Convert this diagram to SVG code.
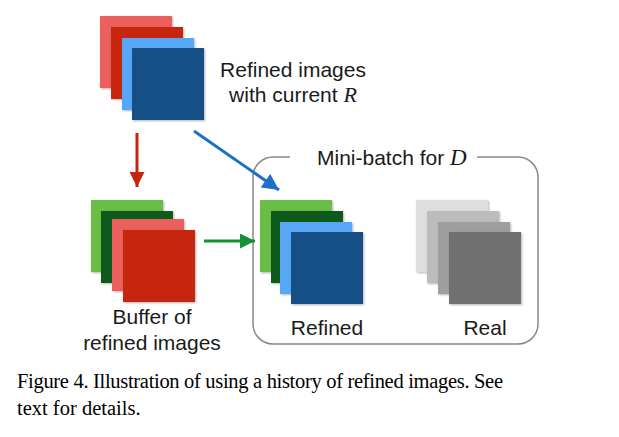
<svg xmlns="http://www.w3.org/2000/svg" width="619" height="437" viewBox="0 0 619 437">
<style>
.lbl{font-family:"Liberation Sans",Arial,sans-serif;font-size:21px;fill:#1a1a1a}
.math{font-family:"Liberation Serif","Times New Roman",serif;font-style:italic}
.cap{font-family:"Liberation Serif","Times New Roman",serif;font-size:20.5px;fill:#000}
.sq{filter:url(#sh)}
</style>
<defs>
<filter id="sh" x="-10%" y="-10%" width="130%" height="130%">
<feDropShadow dx="1" dy="1" stdDeviation="1" flood-color="#000" flood-opacity="0.3"/>
</filter>
<marker id="arR" viewBox="0 0 10 10" refX="10" refY="5" markerWidth="5" markerHeight="5" orient="auto" markerUnits="strokeWidth"><path d="M0,0 L10,5 L0,10 z" fill="#c5250b"/></marker>
<marker id="arB" viewBox="0 0 10 10" refX="10" refY="5" markerWidth="5.5" markerHeight="5.5" orient="auto" markerUnits="strokeWidth"><path d="M0,0 L10,5 L0,10 z" fill="#1f6fc6"/></marker>
<marker id="arG" viewBox="0 0 10 10" refX="10" refY="5" markerWidth="5" markerHeight="5" orient="auto" markerUnits="strokeWidth"><path d="M0,0 L10,5 L0,10 z" fill="#149038"/></marker>
</defs>
<rect width="619" height="437" fill="#fff"/>

<g id="current-stack">
<rect class="sq" x="100" y="16" width="72" height="72" fill="#eb5f5b"/>
<rect class="sq" x="111" y="27" width="72" height="72" fill="#c5250b"/>
<rect class="sq" x="122" y="38" width="72" height="72" fill="#56a8f7"/>
<rect class="sq" x="132" y="48" width="72" height="72" fill="#174f85"/>
<text class="lbl" x="293" y="77" text-anchor="middle">Refined images</text>
<text class="lbl" x="293" y="102" text-anchor="middle">with current <tspan class="math" font-size="22">R</tspan></text>
</g>

<g id="buffer-stack">
<rect class="sq" x="91" y="200" width="72" height="72" fill="#6bbd45"/>
<rect class="sq" x="101" y="211" width="72" height="72" fill="#0e5a1b"/>
<rect class="sq" x="112" y="219" width="72" height="72" fill="#eb5f5b"/>
<rect class="sq" x="123" y="230" width="72" height="72" fill="#c5250b"/>
<text class="lbl" x="152" y="324" text-anchor="middle">Buffer of</text>
<text class="lbl" x="152" y="350" text-anchor="middle">refined images</text>
</g>

<g id="minibatch">
<path d="M290,157 L273,157 A20,20 0 0 0 253,177 L253,324 A20,20 0 0 0 273,344 L518,344 A20,20 0 0 0 538,324 L538,177 A20,20 0 0 0 518,157 L477,157" fill="none" stroke="#888" stroke-width="1.5"/>
<text class="lbl" x="317" y="165">Mini-batch for <tspan class="math" font-size="23">D</tspan></text>
</g>

<g id="refined-stack">
<rect class="sq" x="260" y="200" width="72" height="72" fill="#6bbd45"/>
<rect class="sq" x="271" y="211" width="72" height="72" fill="#0e5a1b"/>
<rect class="sq" x="280" y="222" width="72" height="72" fill="#56a8f7"/>
<rect class="sq" x="291" y="232" width="72" height="72" fill="#174f85"/>
<text class="lbl" x="327" y="335" text-anchor="middle">Refined</text>
</g>

<g id="real-stack">
<rect class="sq" x="416" y="200" width="72" height="72" fill="#dedede"/>
<rect class="sq" x="427" y="211" width="72" height="72" fill="#bcbcbc"/>
<rect class="sq" x="438" y="222" width="72" height="72" fill="#9e9e9e"/>
<rect class="sq" x="449" y="232" width="72" height="72" fill="#717171"/>
<text class="lbl" x="485" y="335" text-anchor="middle">Real</text>
</g>

<g id="connectors">
<line x1="137" y1="133" x2="137" y2="187" stroke="#c5250b" stroke-width="3" marker-end="url(#arR)"/>
<line x1="194" y1="131" x2="279" y2="190" stroke="#1f6fc6" stroke-width="3" marker-end="url(#arB)"/>
<line x1="204" y1="241" x2="255" y2="241" stroke="#149038" stroke-width="3" marker-end="url(#arG)"/>
</g>

<g id="caption">
<text class="cap" x="17" y="388" textLength="486" lengthAdjust="spacing">Figure 4. Illustration of using a history of refined images. See</text>
<text class="cap" x="17" y="415">text for details.</text>
</g>
</svg>
